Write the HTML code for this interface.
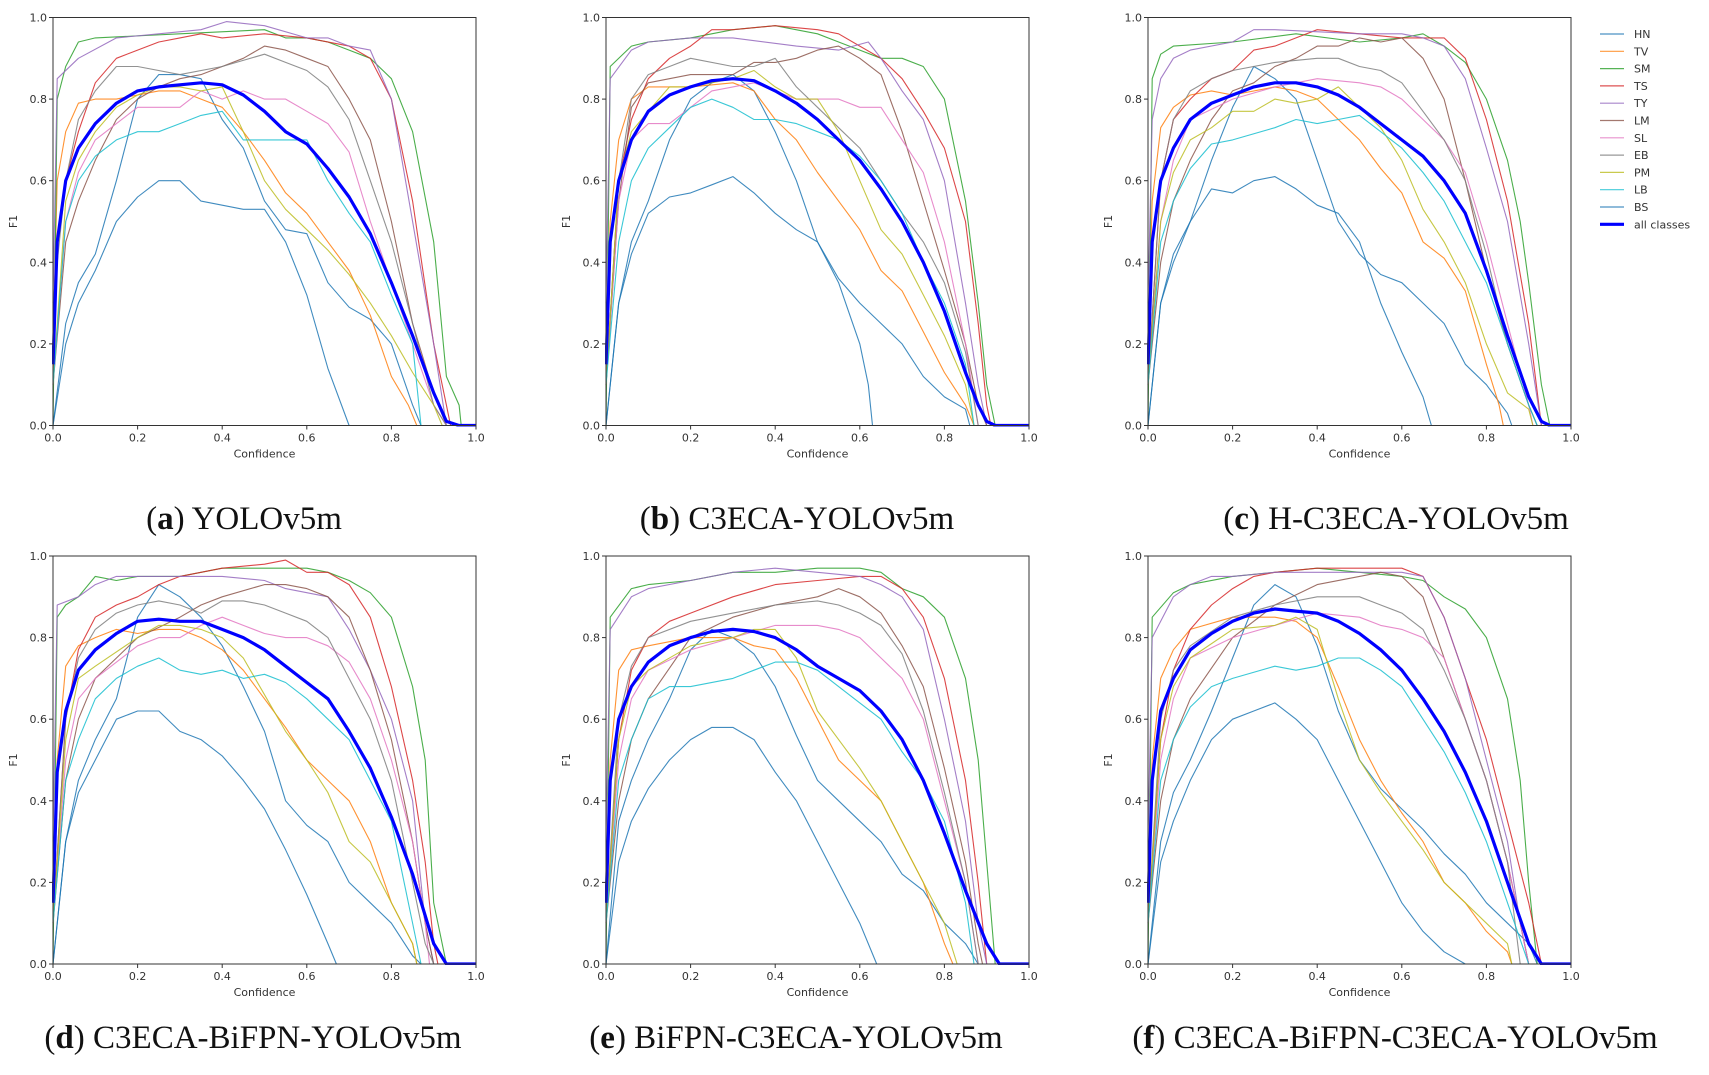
<!DOCTYPE html>
<html><head><meta charset="utf-8">
<style>
body{margin:0;background:#fff;width:1709px;height:1075px;overflow:hidden}
svg{display:block}
</style></head>
<body>
<svg id="fig" width="1709" height="1075" xmlns="http://www.w3.org/2000/svg"></svg>
<script>
// ---- data (confidence, F1) per panel per class ----
const classNames = ["HN","TV","SM","TS","TY","LM","SL","EB","PM","LB","BS","all classes"];
const classColors = ["#1f77b4","#ff7f0e","#2ca02c","#d62728","#9467bd","#8c564b","#e377c2","#7f7f7f","#bcbd22","#17becf","#1f77b4","#0000ff"];
const xTicks = [0,0.2,0.4,0.6,0.8,1.0];
const yTicks = [0,0.2,0.4,0.6,0.8,1.0];
const tickLabels = ["0.0","0.2","0.4","0.6","0.8","1.0"];
const captionLetters = ["a","b","c","d","e","f"];
const captionTitles = ["YOLOv5m","C3ECA-YOLOv5m","H-C3ECA-YOLOv5m","C3ECA-BiFPN-YOLOv5m","BiFPN-C3ECA-YOLOv5m","C3ECA-BiFPN-C3ECA-YOLOv5m"];

// Panel a
const a_HN=[[0,0],[.03,.25],[.06,.35],[.1,.42],[.15,.6],[.2,.8],[.25,.86],[.3,.86],[.35,.85],[.4,.75],[.45,.68],[.5,.55],[.55,.48],[.6,.47],[.65,.35],[.7,.29],[.75,.26],[.8,.2],[.85,.05],[.87,0]];
const a_TV=[[0,.2],[.01,.6],[.03,.72],[.06,.79],[.1,.8],[.15,.8],[.2,.81],[.25,.82],[.3,.82],[.35,.8],[.4,.78],[.45,.72],[.5,.65],[.55,.57],[.6,.52],[.65,.45],[.7,.38],[.75,.27],[.8,.12],[.84,.05],[.86,0]];
const a_SM=[[0,0],[.01,.8],[.03,.88],[.06,.94],[.1,.95],[.3,.96],[.5,.97],[.55,.95],[.6,.95],[.65,.94],[.7,.92],[.75,.9],[.8,.85],[.85,.72],[.9,.45],[.93,.12],[.96,.05],[.965,0]];
const a_TS=[[0,.1],[.01,.45],[.03,.6],[.06,.72],[.1,.84],[.15,.9],[.2,.92],[.25,.94],[.3,.95],[.35,.96],[.4,.95],[.5,.96],[.6,.95],[.7,.93],[.75,.9],[.8,.8],[.85,.55],[.9,.2],[.93,.05],[.94,0]];
const a_TY=[[0,.3],[.01,.85],[.06,.9],[.15,.95],[.25,.96],[.35,.97],[.41,.99],[.5,.98],[.6,.95],[.65,.95],[.7,.93],[.75,.92],[.8,.8],[.85,.5],[.9,.2],[.93,0]];
const a_LM=[[0,.1],[.03,.45],[.06,.55],[.1,.65],[.15,.75],[.2,.8],[.25,.83],[.3,.85],[.35,.86],[.4,.88],[.45,.9],[.5,.93],[.55,.92],[.6,.9],[.65,.88],[.7,.8],[.75,.7],[.8,.5],[.85,.25],[.9,.08],[.93,0]];
const a_SL=[[0,.1],[.03,.5],[.06,.62],[.1,.7],[.15,.74],[.2,.78],[.3,.78],[.35,.82],[.4,.8],[.45,.82],[.5,.8],[.55,.8],[.6,.77],[.65,.74],[.7,.67],[.75,.5],[.8,.35],[.85,.2],[.9,.05],[.93,0]];
const a_EB=[[0,.3],[.03,.6],[.06,.75],[.1,.82],[.15,.88],[.2,.88],[.3,.86],[.4,.88],[.5,.91],[.55,.89],[.6,.87],[.65,.83],[.7,.75],[.75,.6],[.8,.45],[.85,.25],[.9,.05],[.93,0]];
const a_PM=[[0,.1],[.03,.55],[.06,.65],[.1,.72],[.15,.78],[.2,.81],[.25,.83],[.3,.83],[.35,.82],[.4,.83],[.45,.72],[.5,.6],[.55,.53],[.6,.48],[.65,.43],[.7,.37],[.75,.3],[.8,.22],[.85,.13],[.9,.05],[.92,0]];
const a_LB=[[0,.1],[.03,.5],[.06,.6],[.1,.66],[.15,.7],[.2,.72],[.25,.72],[.3,.74],[.35,.76],[.4,.77],[.45,.7],[.5,.7],[.55,.7],[.6,.7],[.65,.6],[.7,.52],[.75,.45],[.8,.32],[.85,.2],[.87,0]];
const a_BS=[[0,0],[.03,.2],[.06,.3],[.1,.38],[.15,.5],[.2,.56],[.25,.6],[.3,.6],[.35,.55],[.4,.54],[.45,.53],[.5,.53],[.55,.45],[.6,.32],[.65,.14],[.7,0]];
const a_ALL=[[0,.15],[.01,.45],[.03,.6],[.06,.68],[.1,.74],[.15,.79],[.2,.82],[.25,.83],[.3,.835],[.35,.84],[.4,.835],[.45,.81],[.5,.77],[.55,.72],[.6,.69],[.65,.63],[.7,.56],[.75,.47],[.8,.35],[.85,.22],[.9,.08],[.93,.01],[.96,0],[1,0]];
// Panel b
const b_HN=[[0,0],[.03,.3],[.06,.45],[.1,.55],[.15,.7],[.2,.8],[.25,.84],[.3,.86],[.35,.82],[.4,.72],[.45,.6],[.5,.45],[.55,.36],[.6,.3],[.65,.25],[.7,.2],[.75,.12],[.8,.07],[.85,.04],[.86,0]];
const b_TV=[[0,.2],[.01,.5],[.03,.7],[.06,.8],[.1,.83],[.2,.83],[.3,.84],[.35,.82],[.4,.75],[.45,.7],[.5,.62],[.55,.55],[.6,.48],[.65,.38],[.7,.33],[.75,.23],[.8,.13],[.85,.05],[.87,0]];
const b_SM=[[0,0],[.01,.88],[.06,.93],[.1,.94],[.2,.95],[.3,.97],[.4,.98],[.5,.96],[.55,.94],[.6,.92],[.65,.9],[.7,.9],[.75,.88],[.8,.8],[.85,.55],[.88,.3],[.9,.1],[.92,0]];
const b_TS=[[0,.1],[.03,.6],[.06,.75],[.1,.85],[.15,.9],[.2,.93],[.25,.97],[.3,.97],[.4,.98],[.5,.97],[.55,.96],[.6,.93],[.65,.9],[.7,.85],[.75,.77],[.8,.68],[.85,.5],[.88,.25],[.9,.05],[.91,0]];
const b_TY=[[0,.3],[.01,.85],[.06,.92],[.1,.94],[.2,.95],[.3,.95],[.45,.93],[.55,.92],[.62,.94],[.65,.9],[.7,.82],[.75,.75],[.8,.6],[.85,.3],[.88,.1],[.9,0]];
const b_LM=[[0,.1],[.03,.55],[.06,.78],[.1,.84],[.2,.86],[.3,.86],[.35,.89],[.4,.89],[.45,.9],[.5,.92],[.55,.93],[.6,.9],[.65,.86],[.7,.72],[.75,.55],[.8,.38],[.85,.2],[.88,.05],[.9,0]];
const b_SL=[[0,.1],[.03,.55],[.06,.7],[.1,.74],[.15,.74],[.2,.78],[.25,.82],[.3,.83],[.35,.84],[.4,.82],[.45,.8],[.5,.8],[.55,.8],[.6,.78],[.65,.78],[.7,.7],[.75,.62],[.8,.45],[.85,.2],[.88,0]];
const b_EB=[[0,.1],[.03,.6],[.06,.8],[.1,.86],[.15,.88],[.2,.9],[.3,.88],[.35,.88],[.4,.9],[.45,.83],[.5,.78],[.55,.73],[.6,.68],[.65,.6],[.7,.52],[.75,.45],[.8,.35],[.85,.18],[.88,0]];
const b_PM=[[0,.1],[.03,.6],[.06,.72],[.1,.77],[.15,.83],[.2,.83],[.3,.85],[.35,.87],[.4,.83],[.45,.8],[.5,.8],[.55,.72],[.6,.6],[.65,.48],[.7,.42],[.75,.32],[.8,.22],[.85,.1],[.87,0]];
const b_LB=[[0,.1],[.03,.45],[.06,.6],[.1,.68],[.15,.73],[.2,.78],[.25,.8],[.3,.78],[.35,.75],[.4,.75],[.45,.74],[.5,.72],[.55,.7],[.6,.66],[.65,.6],[.7,.52],[.75,.4],[.8,.3],[.85,.15],[.87,0]];
const b_BS=[[0,0],[.03,.3],[.06,.42],[.1,.52],[.15,.56],[.2,.57],[.25,.59],[.3,.61],[.35,.57],[.4,.52],[.45,.48],[.5,.45],[.55,.35],[.6,.2],[.62,.1],[.63,0]];
const b_ALL=[[0,.15],[.01,.45],[.03,.6],[.06,.7],[.1,.77],[.15,.81],[.2,.83],[.25,.845],[.3,.85],[.35,.845],[.4,.82],[.45,.79],[.5,.75],[.55,.7],[.6,.65],[.65,.58],[.7,.5],[.75,.4],[.8,.28],[.85,.13],[.88,.05],[.9,.01],[.92,0],[1,0]];
// Panel c
const c_HN=[[0,0],[.03,.3],[.06,.4],[.1,.5],[.15,.65],[.2,.78],[.25,.88],[.3,.85],[.35,.8],[.4,.65],[.45,.5],[.5,.42],[.55,.37],[.6,.35],[.65,.3],[.7,.25],[.75,.15],[.8,.1],[.85,.03],[.86,0]];
const c_TV=[[0,.2],[.01,.55],[.03,.73],[.06,.78],[.1,.81],[.15,.82],[.2,.81],[.3,.83],[.35,.82],[.4,.8],[.45,.75],[.5,.7],[.55,.63],[.6,.57],[.65,.45],[.7,.41],[.75,.33],[.8,.15],[.83,.05],[.84,0]];
const c_SM=[[0,0],[.01,.85],[.03,.91],[.06,.93],[.2,.94],[.35,.96],[.5,.94],[.6,.95],[.65,.96],[.7,.93],[.75,.89],[.8,.8],[.85,.65],[.88,.5],[.9,.35],[.93,.1],[.95,0]];
const c_TS=[[0,.1],[.03,.6],[.06,.75],[.1,.8],[.15,.85],[.2,.87],[.25,.92],[.3,.93],[.35,.95],[.4,.97],[.5,.96],[.6,.95],[.7,.95],[.75,.9],[.8,.75],[.85,.55],[.9,.25],[.93,0]];
const c_TY=[[0,.3],[.01,.75],[.03,.85],[.06,.9],[.1,.92],[.2,.94],[.25,.97],[.3,.97],[.5,.96],[.6,.96],[.65,.95],[.7,.93],[.75,.85],[.8,.68],[.85,.5],[.9,.2],[.93,0]];
const c_LM=[[0,.1],[.03,.4],[.06,.55],[.1,.65],[.15,.75],[.2,.82],[.25,.84],[.3,.88],[.35,.9],[.4,.93],[.45,.93],[.5,.95],[.55,.94],[.6,.95],[.65,.9],[.7,.8],[.75,.6],[.8,.38],[.85,.2],[.9,.05],[.92,0]];
const c_SL=[[0,.1],[.03,.5],[.06,.65],[.1,.75],[.2,.8],[.3,.83],[.4,.85],[.5,.84],[.55,.83],[.6,.8],[.65,.75],[.7,.7],[.75,.62],[.8,.45],[.85,.25],[.9,.05],[.91,0]];
const c_EB=[[0,.1],[.03,.6],[.06,.75],[.1,.82],[.15,.85],[.2,.87],[.3,.89],[.4,.9],[.45,.9],[.5,.88],[.55,.87],[.6,.84],[.65,.77],[.7,.7],[.75,.6],[.8,.42],[.85,.2],[.9,.05],[.92,0]];
const c_PM=[[0,.1],[.03,.5],[.06,.62],[.1,.7],[.15,.73],[.2,.77],[.25,.77],[.3,.8],[.35,.79],[.4,.8],[.45,.83],[.5,.78],[.55,.73],[.6,.65],[.65,.53],[.7,.45],[.75,.35],[.8,.2],[.85,.08],[.9,.04],[.91,0]];
const c_LB=[[0,.1],[.03,.45],[.06,.55],[.1,.63],[.15,.69],[.2,.7],[.3,.73],[.35,.75],[.4,.74],[.45,.75],[.5,.76],[.55,.72],[.6,.68],[.65,.62],[.7,.55],[.75,.45],[.8,.35],[.85,.2],[.9,.05],[.92,0]];
const c_BS=[[0,0],[.03,.3],[.06,.42],[.1,.5],[.15,.58],[.2,.57],[.25,.6],[.3,.61],[.35,.58],[.4,.54],[.45,.52],[.5,.45],[.55,.3],[.6,.18],[.65,.07],[.67,0]];
const c_ALL=[[0,.15],[.01,.45],[.03,.6],[.06,.68],[.1,.75],[.15,.79],[.2,.81],[.25,.83],[.3,.84],[.35,.84],[.4,.83],[.45,.81],[.5,.78],[.55,.74],[.6,.7],[.65,.66],[.7,.6],[.75,.52],[.8,.38],[.85,.22],[.9,.07],[.93,.01],[.95,0],[1,0]];
// Panel d
const d_HN=[[0,0],[.03,.3],[.06,.45],[.1,.55],[.15,.65],[.2,.85],[.25,.93],[.3,.9],[.35,.85],[.4,.78],[.45,.68],[.5,.57],[.55,.4],[.6,.34],[.65,.3],[.7,.2],[.75,.15],[.8,.1],[.85,.02],[.87,0]];
const d_TV=[[0,.2],[.01,.5],[.03,.73],[.06,.78],[.1,.8],[.15,.82],[.2,.81],[.25,.82],[.3,.82],[.35,.8],[.4,.77],[.45,.72],[.5,.65],[.55,.58],[.6,.5],[.65,.45],[.7,.4],[.75,.3],[.8,.15],[.85,.05],[.86,0]];
const d_SM=[[0,0],[.01,.85],[.03,.88],[.06,.9],[.1,.95],[.15,.94],[.2,.95],[.3,.95],[.4,.97],[.5,.97],[.6,.97],[.65,.96],[.7,.94],[.75,.91],[.8,.85],[.85,.68],[.88,.5],[.9,.15],[.93,0]];
const d_TS=[[0,.1],[.03,.6],[.06,.77],[.1,.85],[.15,.88],[.2,.9],[.25,.93],[.3,.95],[.4,.97],[.5,.98],[.55,.99],[.6,.96],[.65,.96],[.7,.93],[.75,.85],[.8,.68],[.85,.45],[.88,.25],[.9,.05],[.91,0]];
const d_TY=[[0,.3],[.01,.88],[.06,.9],[.1,.93],[.15,.95],[.2,.95],[.3,.95],[.4,.95],[.5,.94],[.55,.92],[.6,.91],[.65,.9],[.7,.82],[.75,.72],[.8,.6],[.85,.4],[.88,.1],[.9,0]];
const d_LM=[[0,.1],[.03,.45],[.06,.6],[.1,.7],[.2,.8],[.3,.85],[.35,.88],[.4,.9],[.5,.93],[.55,.93],[.6,.92],[.65,.9],[.7,.85],[.75,.72],[.8,.55],[.85,.3],[.88,.1],[.9,0]];
const d_SL=[[0,.1],[.03,.5],[.06,.65],[.1,.7],[.2,.78],[.25,.8],[.3,.8],[.35,.83],[.4,.85],[.45,.83],[.5,.81],[.55,.8],[.6,.8],[.65,.78],[.7,.74],[.75,.65],[.8,.5],[.85,.3],[.88,.1],[.89,0]];
const d_EB=[[0,.1],[.03,.6],[.06,.75],[.1,.82],[.15,.86],[.2,.88],[.25,.89],[.3,.88],[.35,.86],[.4,.89],[.45,.89],[.5,.88],[.55,.86],[.6,.84],[.65,.8],[.7,.7],[.75,.6],[.8,.45],[.85,.2],[.88,.05],[.9,0]];
const d_PM=[[0,.1],[.03,.55],[.06,.7],[.1,.73],[.2,.8],[.25,.83],[.3,.83],[.35,.82],[.4,.8],[.45,.75],[.5,.66],[.55,.57],[.6,.5],[.65,.42],[.7,.3],[.75,.25],[.8,.15],[.85,.05],[.86,0]];
const d_LB=[[0,.1],[.03,.45],[.06,.55],[.1,.65],[.15,.7],[.2,.73],[.25,.75],[.3,.72],[.35,.71],[.4,.72],[.45,.7],[.5,.71],[.55,.69],[.6,.65],[.65,.6],[.7,.55],[.75,.45],[.8,.35],[.85,.1],[.87,0]];
const d_BS=[[0,0],[.03,.3],[.06,.42],[.1,.5],[.15,.6],[.2,.62],[.25,.62],[.3,.57],[.35,.55],[.4,.51],[.45,.45],[.5,.38],[.55,.28],[.6,.17],[.65,.05],[.67,0]];
const d_ALL=[[0,.15],[.01,.47],[.03,.62],[.06,.72],[.1,.77],[.15,.81],[.2,.84],[.25,.845],[.3,.84],[.35,.84],[.4,.82],[.45,.8],[.5,.77],[.55,.73],[.6,.69],[.65,.65],[.7,.57],[.75,.48],[.8,.36],[.85,.22],[.9,.05],[.93,0],[1,0]];
// Panel e
const e_HN=[[0,0],[.03,.35],[.06,.45],[.1,.55],[.15,.65],[.2,.77],[.25,.82],[.3,.8],[.35,.76],[.4,.68],[.45,.56],[.5,.45],[.55,.4],[.6,.35],[.65,.3],[.7,.22],[.75,.18],[.8,.1],[.85,.05],[.88,0]];
const e_TV=[[0,.2],[.01,.5],[.03,.72],[.06,.77],[.1,.78],[.2,.8],[.3,.8],[.35,.78],[.4,.77],[.45,.7],[.5,.6],[.55,.5],[.6,.45],[.65,.4],[.7,.3],[.75,.2],[.8,.05],[.82,0]];
const e_SM=[[0,0],[.01,.85],[.06,.92],[.1,.93],[.2,.94],[.3,.96],[.4,.96],[.5,.97],[.6,.97],[.65,.96],[.7,.92],[.75,.9],[.8,.85],[.85,.7],[.88,.5],[.9,.25],[.92,0]];
const e_TS=[[0,.1],[.03,.55],[.06,.72],[.1,.8],[.15,.84],[.2,.86],[.3,.9],[.4,.93],[.5,.94],[.6,.95],[.65,.95],[.7,.92],[.75,.85],[.8,.7],[.85,.45],[.88,.2],[.9,0]];
const e_TY=[[0,.3],[.01,.82],[.06,.9],[.1,.92],[.2,.94],[.3,.96],[.4,.97],[.5,.96],[.6,.95],[.65,.93],[.7,.9],[.75,.82],[.8,.6],[.85,.35],[.88,.1],[.9,0]];
const e_LM=[[0,.1],[.03,.4],[.06,.55],[.1,.65],[.2,.8],[.3,.85],[.4,.88],[.5,.9],[.55,.92],[.6,.9],[.65,.86],[.7,.78],[.75,.68],[.8,.48],[.85,.25],[.88,.05],[.89,0]];
const e_SL=[[0,.1],[.03,.5],[.06,.65],[.1,.72],[.2,.77],[.3,.8],[.4,.83],[.5,.83],[.55,.82],[.6,.8],[.65,.75],[.7,.7],[.75,.6],[.8,.4],[.85,.2],[.88,0]];
const e_EB=[[0,.1],[.03,.6],[.06,.73],[.1,.8],[.2,.84],[.3,.86],[.4,.88],[.5,.89],[.55,.88],[.6,.86],[.65,.83],[.7,.76],[.75,.62],[.8,.42],[.85,.2],[.88,0]];
const e_PM=[[0,.1],[.03,.55],[.06,.68],[.1,.72],[.2,.78],[.3,.8],[.35,.82],[.4,.82],[.45,.75],[.5,.62],[.55,.55],[.6,.48],[.65,.4],[.7,.3],[.75,.2],[.8,.1],[.83,0]];
const e_LB=[[0,.1],[.03,.45],[.06,.55],[.1,.65],[.15,.68],[.2,.68],[.3,.7],[.35,.72],[.4,.74],[.45,.74],[.5,.72],[.55,.68],[.6,.64],[.65,.6],[.7,.52],[.75,.45],[.8,.35],[.85,.15],[.87,0]];
const e_BS=[[0,0],[.03,.25],[.06,.35],[.1,.43],[.15,.5],[.2,.55],[.25,.58],[.3,.58],[.35,.55],[.4,.47],[.45,.4],[.5,.3],[.55,.2],[.6,.1],[.64,0]];
const e_ALL=[[0,.15],[.01,.45],[.03,.6],[.06,.68],[.1,.74],[.15,.78],[.2,.8],[.25,.815],[.3,.82],[.35,.815],[.4,.8],[.45,.77],[.5,.73],[.55,.7],[.6,.67],[.65,.62],[.7,.55],[.75,.45],[.8,.32],[.85,.18],[.9,.05],[.93,0],[1,0]];
// Panel f
const f_HN=[[0,0],[.03,.3],[.06,.42],[.1,.5],[.15,.62],[.2,.75],[.25,.88],[.3,.93],[.35,.9],[.4,.78],[.45,.62],[.5,.5],[.55,.43],[.6,.38],[.65,.33],[.7,.27],[.75,.22],[.8,.15],[.85,.1],[.9,.05],[.92,0]];
const f_TV=[[0,.2],[.01,.5],[.03,.7],[.06,.77],[.1,.82],[.2,.85],[.3,.85],[.35,.84],[.4,.8],[.45,.68],[.5,.55],[.55,.45],[.6,.37],[.65,.3],[.7,.2],[.75,.15],[.8,.08],[.85,.03],[.86,0]];
const f_SM=[[0,0],[.01,.85],[.06,.91],[.1,.93],[.2,.95],[.3,.96],[.4,.97],[.5,.96],[.6,.95],[.65,.94],[.7,.9],[.75,.87],[.8,.8],[.85,.65],[.88,.45],[.9,.2],[.92,0]];
const f_TS=[[0,.1],[.03,.55],[.06,.72],[.1,.82],[.15,.88],[.2,.92],[.25,.95],[.3,.96],[.4,.97],[.5,.97],[.6,.97],[.65,.95],[.7,.85],[.75,.7],[.8,.55],[.85,.35],[.9,.15],[.93,0]];
const f_TY=[[0,.3],[.01,.8],[.06,.9],[.1,.93],[.15,.95],[.2,.95],[.3,.96],[.4,.96],[.5,.96],[.6,.96],[.65,.95],[.7,.85],[.75,.7],[.8,.5],[.85,.3],[.88,.1],[.9,0]];
const f_LM=[[0,.1],[.03,.4],[.06,.55],[.1,.65],[.2,.8],[.3,.88],[.4,.93],[.5,.95],[.55,.96],[.6,.95],[.65,.9],[.7,.75],[.75,.6],[.8,.45],[.85,.25],[.88,.1],[.9,0]];
const f_SL=[[0,.1],[.03,.5],[.06,.65],[.1,.75],[.2,.8],[.3,.83],[.4,.86],[.5,.85],[.55,.83],[.6,.82],[.65,.8],[.7,.75],[.75,.6],[.8,.45],[.85,.25],[.9,0]];
const f_EB=[[0,.1],[.03,.6],[.06,.72],[.1,.78],[.2,.85],[.3,.88],[.4,.9],[.5,.9],[.55,.88],[.6,.86],[.65,.82],[.7,.72],[.75,.6],[.8,.45],[.85,.25],[.88,0]];
const f_PM=[[0,.1],[.03,.55],[.06,.68],[.1,.75],[.2,.82],[.3,.83],[.35,.85],[.4,.82],[.45,.65],[.5,.5],[.55,.42],[.6,.35],[.65,.28],[.7,.2],[.75,.15],[.8,.1],[.85,.05],[.86,0]];
const f_LB=[[0,.1],[.03,.45],[.06,.55],[.1,.63],[.15,.68],[.2,.7],[.3,.73],[.35,.72],[.4,.73],[.45,.75],[.5,.75],[.55,.72],[.6,.68],[.65,.6],[.7,.52],[.75,.42],[.8,.3],[.85,.15],[.9,0]];
const f_BS=[[0,0],[.03,.25],[.06,.35],[.1,.45],[.15,.55],[.2,.6],[.25,.62],[.3,.64],[.35,.6],[.4,.55],[.45,.45],[.5,.35],[.55,.25],[.6,.15],[.65,.08],[.7,.03],[.75,0]];
const f_ALL=[[0,.15],[.01,.45],[.03,.62],[.06,.7],[.1,.77],[.15,.81],[.2,.84],[.25,.86],[.3,.87],[.35,.865],[.4,.86],[.45,.84],[.5,.81],[.55,.77],[.6,.72],[.65,.65],[.7,.57],[.75,.47],[.8,.35],[.85,.2],[.9,.05],[.93,0],[1,0]];

const panelSeries = [
 [a_HN,a_TV,a_SM,a_TS,a_TY,a_LM,a_SL,a_EB,a_PM,a_LB,a_BS,a_ALL],
 [b_HN,b_TV,b_SM,b_TS,b_TY,b_LM,b_SL,b_EB,b_PM,b_LB,b_BS,b_ALL],
 [c_HN,c_TV,c_SM,c_TS,c_TY,c_LM,c_SL,c_EB,c_PM,c_LB,c_BS,c_ALL],
 [d_HN,d_TV,d_SM,d_TS,d_TY,d_LM,d_SL,d_EB,d_PM,d_LB,d_BS,d_ALL],
 [e_HN,e_TV,e_SM,e_TS,e_TY,e_LM,e_SL,e_EB,e_PM,e_LB,e_BS,e_ALL],
 [f_HN,f_TV,f_SM,f_TS,f_TY,f_LM,f_SL,f_EB,f_PM,f_LB,f_BS,f_ALL]
];

// ---- layout ----
const NS="http://www.w3.org/2000/svg";
const svg=document.getElementById('fig');
function mk(tag,attrs,parent){const e=document.createElementNS(NS,tag);for(const k in attrs)e.setAttribute(k,attrs[k]);(parent||svg).appendChild(e);return e;}
const colsX=[53,606,1148], W=423;
const rowsY=[17.5,556], H=408;
const captionCX=[244,797,1396,253,796,1395];
const captionY=[529,1048];

panelSeries.forEach((series,p)=>{
  const L=colsX[p%3], T=rowsY[Math.floor(p/3)], B=T+H;
  const xs=v=>L+v*W, ys=v=>B-v*H;
  const g=mk('g',{});
  
  
  mk('rect',{x:L,y:T,width:W,height:H,fill:'#fff'},g);
  const clip=mk('clipPath',{id:'clip'+p},g);
  mk('rect',{x:L-1,y:T-1,width:W+2,height:H+2},clip);
  const lines=mk('g',{'clip-path':'url(#clip'+p+')'},g);
  series.forEach((pts,i)=>{
    const d=pts.map((q,j)=>(j?'L':'M')+xs(q[0]).toFixed(1)+','+ys(q[1]).toFixed(1)).join(' ');
    const isAll=i===11;
    const path=mk('path',{d:d,fill:'none',stroke:classColors[i],'stroke-width':isAll?3.2:1.1,'stroke-linejoin':'round','stroke-opacity':isAll?1:0.85},lines);
    
    
  });
  mk('rect',{x:L,y:T,width:W,height:H,fill:'none',stroke:'#333','stroke-width':1},g);
  xTicks.forEach((v,i)=>{
    mk('line',{x1:xs(v),x2:xs(v),y1:B,y2:B+4,stroke:'#333'},g);
    const t=mk('text',{x:xs(v),y:B+16,'text-anchor':'middle','font-size':11,fill:'#333','font-family':'DejaVu Sans, sans-serif'},g);
    t.textContent=tickLabels[i];
    
    
  });
  yTicks.forEach((v,i)=>{
    mk('line',{x1:L-4,x2:L,y1:ys(v),y2:ys(v),stroke:'#333'},g);
    const t=mk('text',{x:L-6,y:ys(v)+4,'text-anchor':'end','font-size':11,fill:'#333','font-family':'DejaVu Sans, sans-serif'},g);
    t.textContent=tickLabels[i];
    
    
  });
  const xl=mk('text',{x:L+W/2,y:B+32,'text-anchor':'middle','font-size':11,fill:'#333','font-family':'DejaVu Sans, sans-serif'},g);
  xl.textContent='Confidence';
  
  
  const yl=mk('text',{x:0,y:0,'text-anchor':'middle','font-size':11,fill:'#333','font-family':'DejaVu Sans, sans-serif',transform:'translate('+(L-36)+','+(T+H/2)+') rotate(-90)'},g);
  yl.textContent='F1';
  
  
  const cap=mk('text',{x:captionCX[p],y:captionY[Math.floor(p/3)],'text-anchor':'middle','font-size':33,fill:'#111','font-family':'Liberation Serif, serif'},g);
  
  
  const s1=mk('tspan',{},cap); s1.textContent='(';
  const s2=mk('tspan',{'font-weight':'bold'},cap); s2.textContent=captionLetters[p];
  const s3=mk('tspan',{},cap); s3.textContent=') '+captionTitles[p];
});

// legend
const lg=mk('g',{});


classNames.forEach((n,i)=>{
  const y=34+i*17.3;
  const e=mk('g',{},lg);
  
  
  mk('line',{x1:1600,x2:1624,y1:y,y2:y,stroke:classColors[i],'stroke-width':i===11?3.2:1.2,'stroke-opacity':i===11?1:0.8},e);
  const t=mk('text',{x:1634,y:y+4,'font-size':11,fill:'#333','font-family':'DejaVu Sans, sans-serif'},e);
  t.textContent=n;
});
</script>
</body></html>
